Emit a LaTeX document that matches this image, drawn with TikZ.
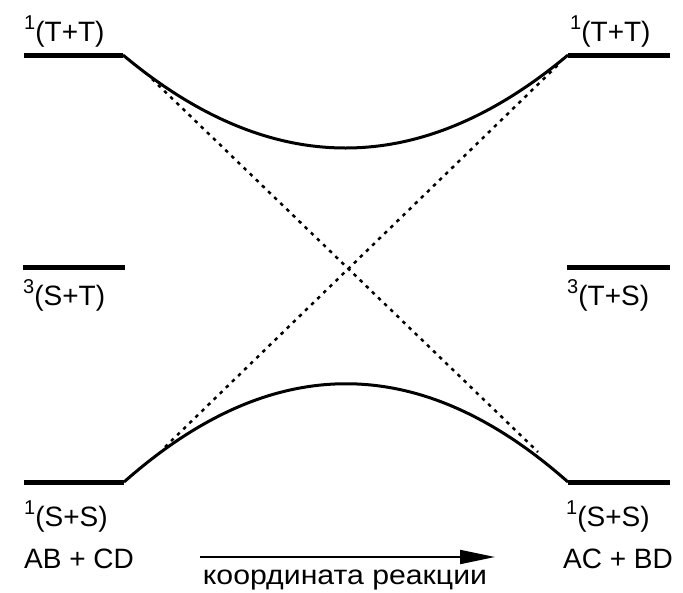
\documentclass[tikz,border=0pt]{standalone}
\usepackage{fontspec}
\setmainfont{Liberation Sans}
\usetikzlibrary{arrows.meta}
\newcommand{\levsup}[1]{\raisebox{0.42em}{\fontsize{20}{20}\selectfont #1}}
\begin{document}
\begin{tikzpicture}[x=1pt,y=-1pt,
  level/.style={line width=5pt},
  curve/.style={line width=3pt},
  dotline/.style={line width=2.5pt,dash pattern=on 3.5pt off 5pt},
  lbl/.style={anchor=base west,inner sep=0pt,font=\fontsize{28}{32}\selectfont},
  axis/.style={line width=2pt,-{Triangle[length=35pt,width=14pt]}}]
\useasboundingbox (0,0) rectangle (683,592);
% level endpoints
\coordinate (TL1) at (24,55);  \coordinate (TL2) at (123,55);
\coordinate (TR1) at (568,55); \coordinate (TR2) at (670,55);
\coordinate (ML1) at (23,267); \coordinate (ML2) at (125,267);
\coordinate (MR1) at (567,267);\coordinate (MR2) at (670,267);
\coordinate (BL1) at (24,482); \coordinate (BL2) at (124,482);
\coordinate (BR1) at (568,482);\coordinate (BR2) at (670,482);
% levels
\draw[level] (TL1) -- (TL2);
\draw[level] (TR1) -- (TR2);
\draw[level] (ML1) -- (ML2);
\draw[level] (MR1) -- (MR2);
\draw[level] (BL1) -- (BL2);
\draw[level] (BR1) -- (BR2);
% curves
\draw[curve] (TL2) .. controls (271,179) and (420,179) .. (TR1);
\draw[curve] (BL2) .. controls (272,351) and (420,351) .. (BR1);
% dotted diabatic lines
\coordinate (DA1) at (152,79);  \coordinate (DA2) at (538,452);
\coordinate (DB1) at (165,447); \coordinate (DB2) at (561,62);
\draw[dotline] (DA1) -- (DA2);
\draw[dotline] (DB1) -- (DB2);
% labels
\node[lbl] (lTTl) at (24,41) {\levsup{1}(T+T)};
\node[lbl] (lTTr) at (570,41) {\levsup{1}(T+T)};
\node[lbl] (lST) at (23,305) {\levsup{3}(S+T)};
\node[lbl] (lTS) at (567,305) {\levsup{3}(T+S)};
\node[lbl] (lSSl) at (24,526) {\levsup{1}(S+S)};
\node[lbl] (lSSr) at (566,526) {\levsup{1}(S+S)};
\node[lbl] (ab) at (24,568) {AB + CD};
\node[lbl] (ac) at (563,568) {AC + BD};
% reaction coordinate arrow
\coordinate (A1) at (200,557); \coordinate (A2) at (495,557);
\draw[axis] (A1) -- (A2);
\node[anchor=base,inner sep=0pt,font=\fontsize{27}{30}\selectfont] (rc) at (345,584) {\scalebox{1.12}[1]{координата реакции}};
\end{tikzpicture}
\end{document}
